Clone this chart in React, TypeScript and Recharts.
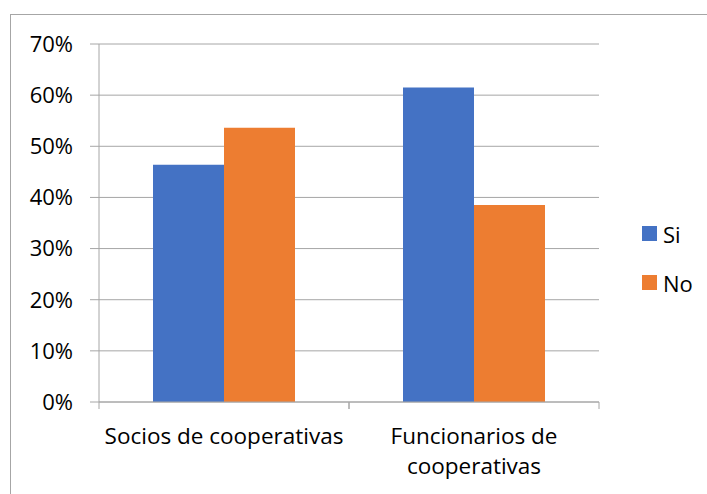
import { BarChart, Bar, XAxis, YAxis, CartesianGrid } from 'recharts';

const categories = ['Socios de cooperativas', 'Funcionarios de cooperativas'];
const categoryLines = [['Socios de cooperativas'], ['Funcionarios de', 'cooperativas']];
const siValues = [0.464, 0.615];
const noValues = [0.536, 0.385];
const yTicks = [0, 0.1, 0.2, 0.3, 0.4, 0.5, 0.6, 0.7];
const series = [
    { key: 'Si', color: '#4472C4' },
    { key: 'No', color: '#ED7D31' },
];

const data = categories.map((name, i) => ({ name, Si: siValues[i], No: noValues[i] }));

const FONT = '"Open Sans", sans-serif';
const GRID = '#a6a6a6';
const W = 707;
const H = 494;
const margin = { top: 44, right: 108, bottom: 20, left: 0 };
const bandHalf = (W - 99 - margin.right) / categories.length / 2;

function CategoryTick(props: any) {
    const { x, y, payload } = props;
    const lines = categoryLines[payload.index] ?? [payload.value];
    return (
        <g>
            <line x1={x - bandHalf} y1={y - 8} x2={x - bandHalf} y2={y - 1} stroke={GRID} />
            <line x1={x + bandHalf} y1={y - 8} x2={x + bandHalf} y2={y - 1} stroke={GRID} />
            {lines.map((t: string, i: number) => (
                <text key={i} x={x} y={y + 34 + i * 30} textAnchor="middle" fill="#000" fontSize={22.5} fontFamily={FONT}>
                    {t}
                </text>
            ))}
        </g>
    );
}

export default function App() {
    return (
        <div style={{ position: 'absolute', left: 0, top: 0, width: W, height: H, background: '#fff', overflow: 'hidden' }}>
            <div style={{ position: 'absolute', left: 10, top: 14, width: 760, height: 560, border: '1.5px solid #a6a6a6' }} />
            <div style={{ position: 'absolute', left: 0, top: 0 }}>
                <BarChart width={W} height={H} data={data} margin={margin} barCategoryGap="21.6%" barGap={0}>
                    <CartesianGrid vertical={false} stroke={GRID} />
                    <XAxis
                        dataKey="name"
                        stroke={GRID}
                        tickLine={false}
                        height={72}
                        interval={0}
                        tick={<CategoryTick />}
                    />
                    <YAxis
                        domain={[0, 0.7]}
                        ticks={yTicks}
                        width={99}
                        stroke={GRID}
                        tickSize={9}
                        tickMargin={17}
                        tickFormatter={(v: number) => `${Math.round(v * 100)}%`}
                        tick={{ fill: '#000', fontSize: 22, fontFamily: FONT }}
                        interval={0}
                    />
                    {series.map(s => (
                        <Bar key={s.key} dataKey={s.key} fill={s.color} isAnimationActive={false} />
                    ))}
                </BarChart>
            </div>
            <div style={{ position: 'absolute', left: 642, top: 209, fontFamily: FONT, fontSize: 22 }}>
                {series.map(s => (
                    <div key={s.key} style={{ display: 'flex', alignItems: 'center', height: 49 }}>
                        <span style={{ width: 15, height: 15, background: s.color, display: 'inline-block', marginRight: 6 }} />
                        <span>{s.key}</span>
                    </div>
                ))}
            </div>
        </div>
    );
}
